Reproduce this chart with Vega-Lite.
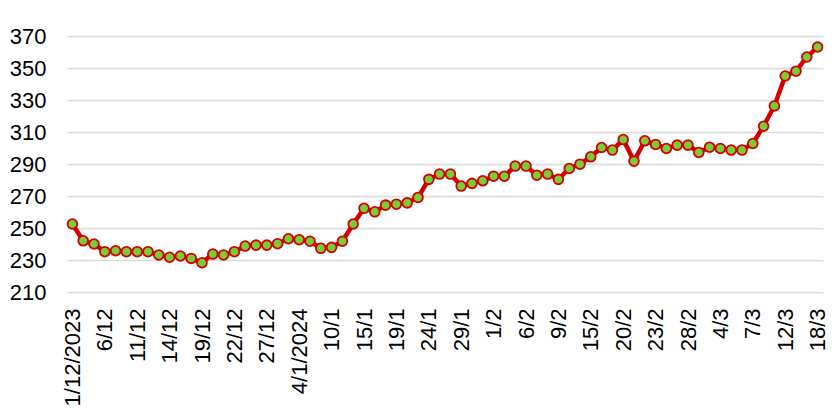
{
  "$schema": "https://vega.github.io/schema/vega-lite/v6.json",
  "width": 756,
  "height": 256,
  "autosize": "none",
  "padding": {"left": 67, "top": 36, "right": 12, "bottom": 127},
  "background": "white",
  "config": {
    "view": {"stroke": null},
    "font": "Liberation Sans",
    "axis": {"labelFont": "Liberation Sans", "labelColor": "#000000", "labelFontSize": 22}
  },
  "data": {
    "values": [
      {"d": "1/12/2023", "v": 252.5},
      {"d": "4/12", "v": 242},
      {"d": "5/12", "v": 240},
      {"d": "6/12", "v": 235.2},
      {"d": "7/12", "v": 235.8},
      {"d": "8/12", "v": 235.2},
      {"d": "11/12", "v": 235.2},
      {"d": "12/12", "v": 235.2},
      {"d": "13/12", "v": 233.1},
      {"d": "14/12", "v": 231.7},
      {"d": "15/12", "v": 232.5},
      {"d": "18/12", "v": 231},
      {"d": "19/12", "v": 228.3},
      {"d": "20/12", "v": 233.7},
      {"d": "21/12", "v": 233.1},
      {"d": "22/12", "v": 235.2},
      {"d": "25/12", "v": 238.7},
      {"d": "26/12", "v": 239.3},
      {"d": "27/12", "v": 239.3},
      {"d": "28/12", "v": 240.2},
      {"d": "29/12", "v": 243.3},
      {"d": "4/1/2024", "v": 242.7},
      {"d": "8/1", "v": 241.7},
      {"d": "9/1", "v": 237.3},
      {"d": "10/1", "v": 237.9},
      {"d": "11/1", "v": 241.7},
      {"d": "12/1", "v": 252.5},
      {"d": "15/1", "v": 262.3},
      {"d": "16/1", "v": 260.1},
      {"d": "17/1", "v": 264.3},
      {"d": "19/1", "v": 264.9},
      {"d": "22/1", "v": 265.7},
      {"d": "23/1", "v": 269.1},
      {"d": "24/1", "v": 280.4},
      {"d": "25/1", "v": 283.7},
      {"d": "26/1", "v": 283.7},
      {"d": "29/1", "v": 276.2},
      {"d": "30/1", "v": 277.9},
      {"d": "31/1", "v": 279.5},
      {"d": "1/2", "v": 282.4},
      {"d": "2/2", "v": 282.4},
      {"d": "5/2", "v": 288.7},
      {"d": "6/2", "v": 288.7},
      {"d": "7/2", "v": 283},
      {"d": "8/2", "v": 283.7},
      {"d": "9/2", "v": 280.4},
      {"d": "13/2", "v": 287.2},
      {"d": "14/2", "v": 289.9},
      {"d": "15/2", "v": 294.5},
      {"d": "16/2", "v": 300.3},
      {"d": "19/2", "v": 298.7},
      {"d": "20/2", "v": 305.3},
      {"d": "21/2", "v": 291.8},
      {"d": "22/2", "v": 304.5},
      {"d": "23/2", "v": 302.2},
      {"d": "26/2", "v": 299.7},
      {"d": "27/2", "v": 301.8},
      {"d": "28/2", "v": 301.8},
      {"d": "29/2", "v": 297.2},
      {"d": "1/3", "v": 300.5},
      {"d": "4/3", "v": 299.7},
      {"d": "5/3", "v": 298.7},
      {"d": "6/3", "v": 298.7},
      {"d": "7/3", "v": 302.8},
      {"d": "8/3", "v": 313.6},
      {"d": "11/3", "v": 326.3},
      {"d": "12/3", "v": 345},
      {"d": "13/3", "v": 348},
      {"d": "14/3", "v": 356.9},
      {"d": "18/3", "v": 363.1}
    ]
  },
  "encoding": {
    "x": {
      "field": "d",
      "type": "ordinal",
      "sort": null,
      "scale": {"type": "point", "padding": 0.5},
      "axis": {
        "title": null,
        "values": ["1/12/2023", "6/12", "11/12", "14/12", "19/12", "22/12", "27/12", "4/1/2024", "10/1", "15/1", "19/1", "24/1", "29/1", "1/2", "6/2", "9/2", "15/2", "20/2", "23/2", "28/2", "4/3", "7/3", "12/3", "18/3"],
        "labelAngle": -90,
        "labelPadding": 16,
        "domain": false,
        "ticks": false,
        "grid": false
      }
    },
    "y": {
      "field": "v",
      "type": "quantitative",
      "scale": {"domain": [210, 370], "nice": false, "zero": false},
      "axis": {
        "title": null,
        "values": [210, 230, 250, 270, 290, 310, 330, 350, 370],
        "domain": false,
        "ticks": false,
        "grid": true,
        "gridColor": "#d9d9d9",
        "gridWidth": 1.3,
        "labelPadding": 21
      }
    }
  },
  "layer": [
    {"mark": {"type": "line", "color": "#d40000", "strokeWidth": 4.5}},
    {"mark": {"type": "point", "filled": true, "fill": "#76cd38", "stroke": "#d40000", "strokeWidth": 1.8, "size": 95, "opacity": 1}}
  ]
}
